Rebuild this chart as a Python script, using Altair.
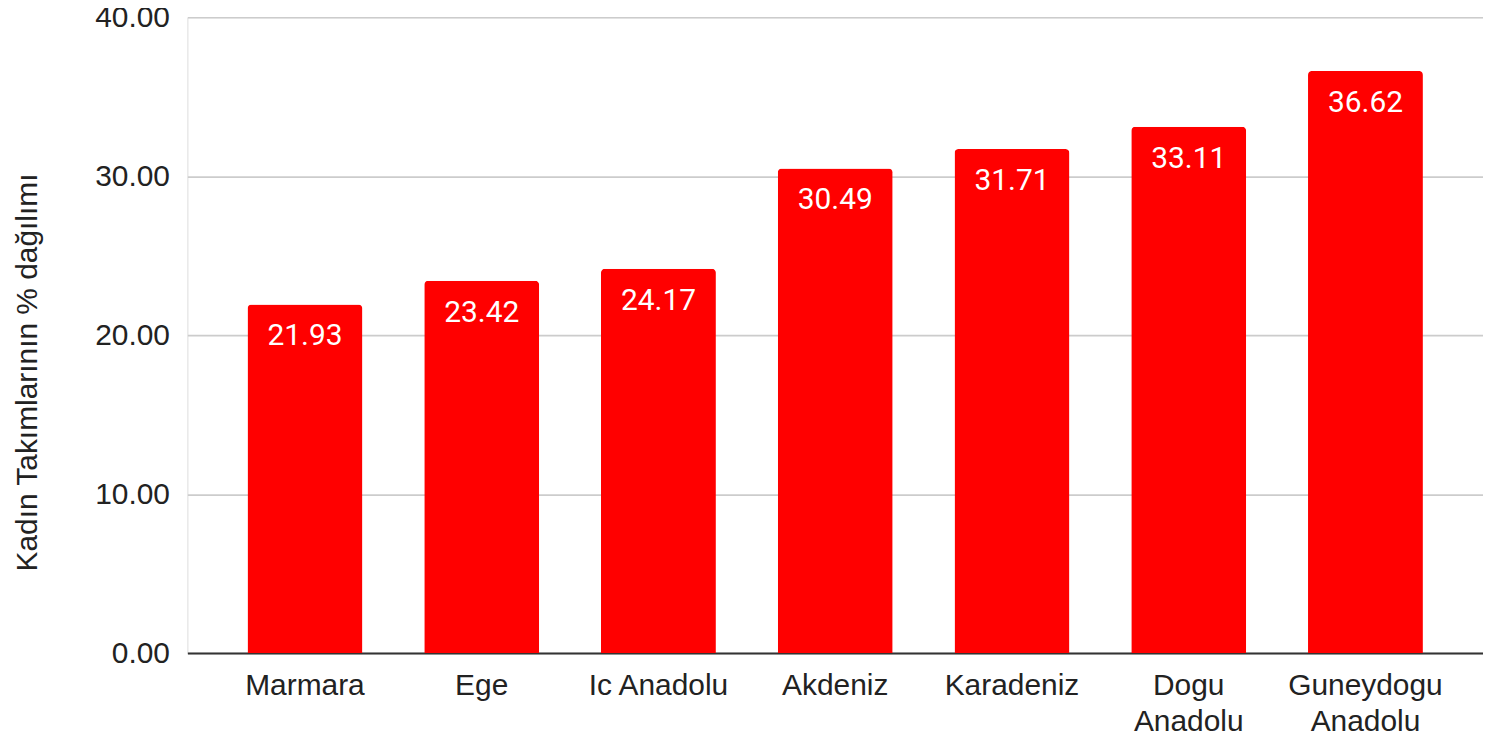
import altair as alt
import pandas as pd

regions = ["Marmara", "Ege", "Ic Anadolu", "Akdeniz", "Karadeniz", "Dogu Anadolu", "Guneydogu Anadolu"]
values = [21.93, 23.42, 24.17, 30.49, 31.71, 33.11, 36.62]
y_ticks = [0, 10, 20, 30, 40]

df = pd.DataFrame({"region": regions, "value": values})

x = alt.X(
    "region:N",
    sort=regions,
    title=None,
    scale=alt.Scale(paddingInner=0.35, paddingOuter=0.34),
    axis=alt.Axis(
        labelAngle=0,
        labelFont="Liberation Sans",
        labelFontSize=30,
        labelColor="#222222",
        labelPadding=18,
        labelLineHeight=36,
        labelLimit=400,
        labelExpr="(datum.label != 'Ic Anadolu' && indexof(datum.label, ' Anadolu') >= 0) ? split(datum.label, ' ') : datum.label",
        ticks=False,
        domain=True,
        domainColor="#333333",
        domainWidth=2,
        grid=False,
    ),
)

y = alt.Y(
    "value:Q",
    title="Kadın Takımlarının % dağılımı",
    scale=alt.Scale(domain=[0, 40], nice=False),
    axis=alt.Axis(
        values=y_ticks,
        format=".2f",
        labelFont="Liberation Sans",
        labelFontSize=30,
        labelColor="#222222",
        labelPadding=18,
        ticks=False,
        domain=False,
        grid=True,
        gridColor="#cccccc",
        gridWidth=1.6,
        titleFont="Liberation Sans",
        titleFontSize=30,
        titleFontWeight="normal",
        titleColor="#222222",
        titleAngle=-90,
        titleAlign="center",
        titleBaseline="alphabetic",
        titleX=-151,
        titleY=356,
    ),
)

bars = alt.Chart(df).mark_bar(color="#ff0000", cornerRadiusTopLeft=4, cornerRadiusTopRight=4).encode(x=x, y=y)

labels = alt.Chart(df).mark_text(
    font="Roboto",
    fontSize=30,
    color="#ffffff",
    baseline="alphabetic",
    align="center",
    dy=41,
).encode(
    x=alt.X("region:N", sort=regions),
    y=alt.Y("value:Q"),
    text=alt.Text("value:Q", format=".2f"),
)

chart = (
    alt.layer(bars, labels)
    .properties(
        width=1300,
        height=638,
        autosize=alt.AutoSizeParams(type="none"),
        padding={"left": 180, "top": 8, "right": 0, "bottom": 86},
    )
    .configure_view(stroke=None)
    .configure(background="#ffffff")
)

chart.save("out.html", embed_options={"renderer": "svg", "actions": False})
